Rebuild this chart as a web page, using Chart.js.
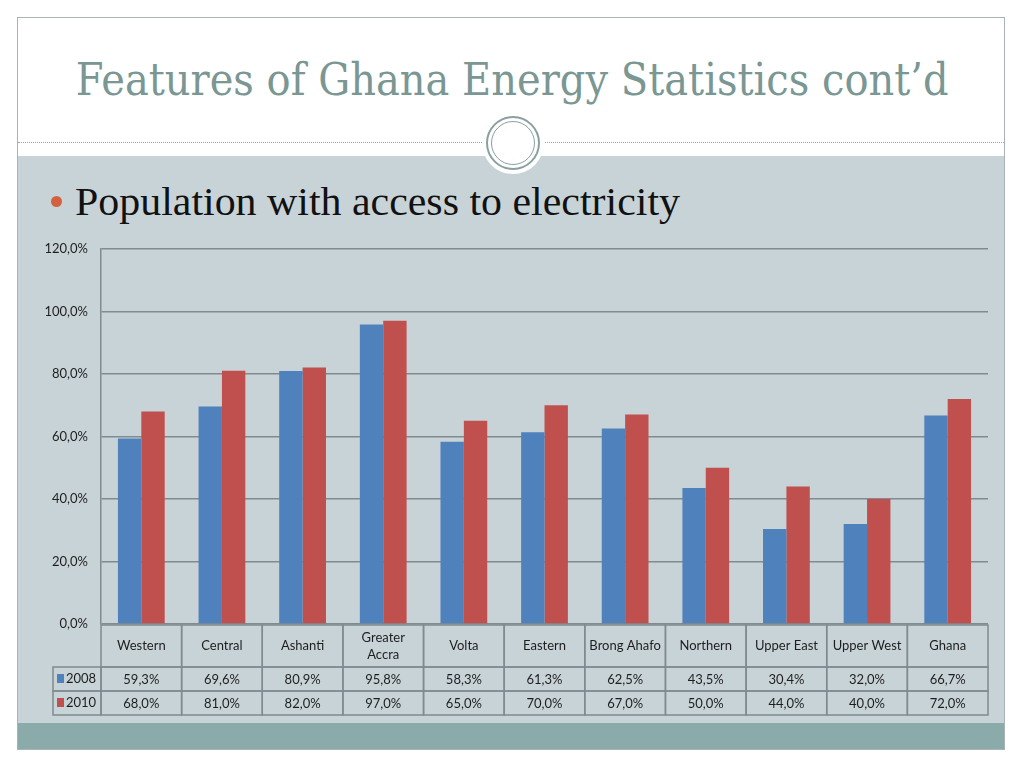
<!DOCTYPE html>
<html lang="en">
<head>
<meta charset="utf-8">
<title>Features of Ghana Energy Statistics</title>
<script src="https://cdn.jsdelivr.net/npm/chart.js@4.4.1/dist/chart.umd.min.js"></script>
<style>
  html, body { margin: 0; padding: 0; background: #fff; }
  body { width: 1024px; height: 768px; position: relative; overflow: hidden; }
  #slide { position: absolute; left: 17px; top: 17px; width: 988px; height: 733px;
           border: 1px solid #a9b3b5; box-sizing: border-box; background: #fff; overflow: hidden; }
  #body { position: absolute; left: 0; top: 138px; width: 100%; height: 567px; background: #c8d3d7; }
  #band { position: absolute; left: 0; top: 705px; width: 100%; height: 28px; background: #8aabaa; }
  #rule { position: absolute; left: 0; top: 124px; width: 100%; border-top: 1px dotted #9aa5a8; }
  #knob { position: absolute; left: 464px; top: 94px; width: 62px; height: 62px; border-radius: 50%; background: #fff; }
  #ring1 { position: absolute; left: 468px; top: 98px; width: 50px; height: 50px; border-radius: 50%;
           border: 2px solid #8a9fa0; background: #fff; }
  #ring2 { position: absolute; left: 473px; top: 103px; width: 44px; height: 44px; border-radius: 50%;
           border: 1.5px solid #8a9fa0; box-sizing: border-box; }
  #title { position: absolute; left: 0; top: 36px; width: 988px; text-align: center;
           font-family: "DejaVu Serif", serif; font-size: 44px; color: #7a9794; white-space: nowrap; }
  #title span { display: inline-block; transform-origin: center; }
  #bullet { position: absolute; left: 33px; top: 178px; width: 11px; height: 11px; border-radius: 50%; background: #d3603e; }
  #point { position: absolute; left: 57px; top: 161px; font-family: "Liberation Serif", serif;
           font-size: 39px; color: #111; white-space: nowrap; }
  #wrap { position: absolute; left: 17px; top: 228px; width: 989px; height: 494px; }
</style>
</head>
<body>
<div id="slide">
  <div id="body"></div>
  <div id="band"></div>
  <div id="rule"></div>
  <div id="knob"></div>
  <div id="ring1"></div>
  <div id="ring2"></div>
  <div id="title"><span id="titleText">Features of Ghana Energy Statistics cont’d</span></div>
  <div id="bullet"></div>
  <div id="point">Population with access to electricity</div>
</div>
<div id="wrap"><canvas id="chart"></canvas></div>

<script>
// data
var categories = ['Western', 'Central', 'Ashanti', ['Greater', 'Accra'], 'Volta', 'Eastern',
                  'Brong Ahafo', 'Northern', 'Upper East', 'Upper West', 'Ghana'];
var values2008 = [59.3, 69.6, 80.9, 95.8, 58.3, 61.3, 62.5, 43.5, 30.4, 32.0, 66.7];
var values2010 = [68.0, 81.0, 82.0, 97.0, 65.0, 70.0, 67.0, 50.0, 44.0, 40.0, 72.0];
var seriesNames = ['2008', '2010'];
var yTicks = [0, 20, 40, 60, 80, 100, 120];

var BLUE = '#4f81bd';
var RED = '#c0504d';
var LINE = '#7f8b90';
var FONT = 'Lato, "Open Sans", sans-serif';

// squeeze the title and bullet to the widths they have on the slide
(function () {
    var t = document.getElementById('titleText');
    var w = t.getBoundingClientRect().width;
    t.style.transform = 'scaleX(' + (873 / w) + ')';
    var p = document.getElementById('point');
    var pw = p.getBoundingClientRect().width;
    p.style.transformOrigin = 'left';
    p.style.transform = 'scaleX(' + (605 / pw) + ')';
})();

function pct(v) {
    return v.toFixed(1).replace('.', ',') + '%';
}

// data table under the plot, laid out from the x scale
var dataTable = {
    id: 'dataTable',
    afterDraw: function (chart) {
        var ctx = chart.ctx;
        var area = chart.chartArea;
        var x = chart.scales.x;
        var n = categories.length;
        var cw = (area.right - area.left) / n;
        var top = area.bottom + 1;
        var headH = 42, rowH = 24;
        var legW = 48;
        var rows = [values2008, values2010];
        var colors = [BLUE, RED];

        ctx.save();
        ctx.strokeStyle = LINE;
        ctx.lineWidth = 1.5;
        ctx.fillStyle = '#1e1e1e';
        ctx.font = '13px ' + FONT;
        ctx.textAlign = 'center';
        ctx.textBaseline = 'middle';

        for (var i = 0; i < n; i++) {
            var cx = x.getPixelForValue(i);
            var left = cx - cw / 2;
            ctx.strokeRect(left, top, cw, headH);
            var lab = categories[i];
            if (Array.isArray(lab)) {
                ctx.fillText(lab[0], cx, top + headH / 2 - 8);
                ctx.fillText(lab[1], cx, top + headH / 2 + 9);
            } else {
                ctx.fillText(lab, cx, top + headH / 2);
            }
            for (var r = 0; r < rows.length; r++) {
                var y = top + headH + r * rowH;
                ctx.strokeRect(left, y, cw, rowH);
                ctx.fillText(pct(rows[r][i]), cx, y + rowH / 2 + 1);
            }
        }

        // legend keys in the first column
        for (var r = 0; r < rows.length; r++) {
            var y = top + headH + r * rowH;
            ctx.strokeRect(area.left - legW, y, legW, rowH);
            ctx.fillStyle = colors[r];
            ctx.fillRect(area.left - legW + 4, y + 7, 7, 9);
            ctx.fillStyle = '#1e1e1e';
            ctx.textAlign = 'left';
            ctx.fillText(seriesNames[r], area.left - legW + 13, y + rowH / 2);
        }
        ctx.restore();
    }
};

new Chart(document.getElementById('chart'), {
    type: 'bar',
    data: {
        labels: categories,
        datasets: [
            { label: seriesNames[0], data: values2008, backgroundColor: BLUE, borderWidth: 0 },
            { label: seriesNames[1], data: values2010, backgroundColor: RED, borderWidth: 0 }
        ]
    },
    options: {
        responsive: true,
        maintainAspectRatio: false,
        animation: false,
        layout: { padding: { top: 18, right: 18, bottom: 98, left: 0 } },
        datasets: { bar: { categoryPercentage: 0.58, barPercentage: 1.0 } },
        plugins: { legend: { display: false }, tooltip: { enabled: false } },
        scales: {
            x: { display: false },
            y: {
                min: 0,
                max: 120,
                afterBuildTicks: function (scale) {
                    scale.ticks = yTicks.map(function (v) { return { value: v }; });
                },
                afterFit: function (scale) { scale.width = 84; },
                border: { display: true, color: LINE, width: 1.5 },
                grid: { color: LINE, lineWidth: 1.5, drawTicks: false },
                ticks: {
                    padding: 13,
                    color: '#1e1e1e',
                    font: { family: FONT, size: 13 },
                    callback: function (v) { return pct(v); }
                }
            }
        }
    },
    plugins: [dataTable]
});
</script>
</body>
</html>
